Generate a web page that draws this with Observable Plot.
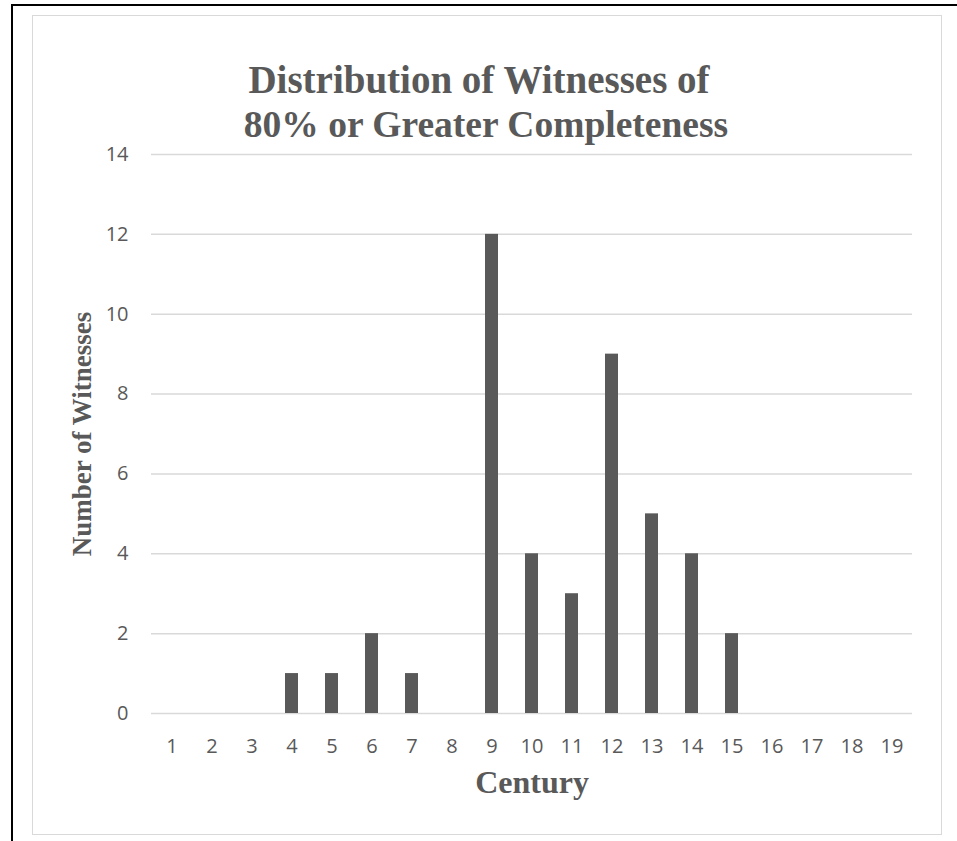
<!DOCTYPE html>
<html>
<head>
<meta charset="utf-8">
<script src="https://cdn.jsdelivr.net/npm/d3@7"></script>
<script src="https://cdn.jsdelivr.net/npm/@observablehq/plot@0.6"></script>
<style>
  html, body { margin: 0; padding: 0; background: #fff; overflow: hidden; }
  #wrap { position: relative; width: 957px; height: 841px; }
  #outer { position: absolute; left: 11px; top: 4px; width: 2000px; height: 2000px;
           border-left: 2px solid #000; border-top: 2px solid #000; box-sizing: border-box; }
  #inner { position: absolute; left: 32px; top: 15px; width: 910px; height: 820px;
           border: 1.5px solid #d9d9d9; box-sizing: border-box; }
  #chart { position: absolute; left: 0; top: 0; }
</style>
</head>
<body>
<div id="wrap">
  <div id="outer"></div>
  <div id="inner"></div>
  <div id="chart"></div>
</div>
<script>
const centuries = ["1","2","3","4","5","6","7","8","9","10","11","12","13","14","15","16","17","18","19"];
const witnesses = [0,0,0,1,1,2,1,0,12,4,3,9,5,4,2,0,0,0,0];
const yTicks = [0,2,4,6,8,10,12,14];
const titleLines = ["Distribution of Witnesses of", "80% or Greater Completeness"];
const xTitle = "Century";
const yTitle = "Number of Witnesses";

const data = centuries.map((c, i) => ({century: c, count: witnesses[i]}));
const gray = "#595959";
const serif = "'Liberation Serif', 'Times New Roman', serif";

const chart = Plot.plot({
  width: 957,
  height: 841,
  marginLeft: 151,
  marginRight: 45,
  marginTop: 154,
  marginBottom: 128,
  style: {background: "transparent", overflow: "visible", fontFamily: "'Open Sans', sans-serif", color: gray},
  x: {domain: centuries, paddingInner: 0.683, paddingOuter: 0.3415, label: null},
  y: {domain: [0, 14], label: null},
  marks: [
    Plot.gridY(yTicks, {stroke: "#d9d9d9", strokeOpacity: 1, strokeWidth: 1.5}),
    Plot.barY(data, {x: "century", y: "count", fill: gray}),
    Plot.axisX({tickSize: 0, tickPadding: 25, fontSize: 20, fill: gray, label: null}),
    Plot.axisY(yTicks, {tickSize: 0, tickPadding: 23, fontSize: 20, fill: gray, label: null}),
    Plot.text([xTitle], {frameAnchor: "bottom", dy: 79, fontSize: 32, fontWeight: "bold", fontFamily: serif, fill: gray}),
    Plot.text([yTitle], {frameAnchor: "left", dx: -69, rotate: -90, textAnchor: "middle", fontSize: 27, fontWeight: "bold", fontFamily: serif, fill: gray}),
    Plot.text([titleLines[0]], {frameAnchor: "top", dx: -53, dy: -89, fontSize: 39, fontWeight: "bold", fontFamily: serif, fill: gray}),
    Plot.text([titleLines[1]], {frameAnchor: "top", dx: -46, dy: -44, fontSize: 37.5, fontWeight: "bold", fontFamily: serif, fill: gray})
  ]
});
document.getElementById("chart").appendChild(chart);
</script>
</body>
</html>
